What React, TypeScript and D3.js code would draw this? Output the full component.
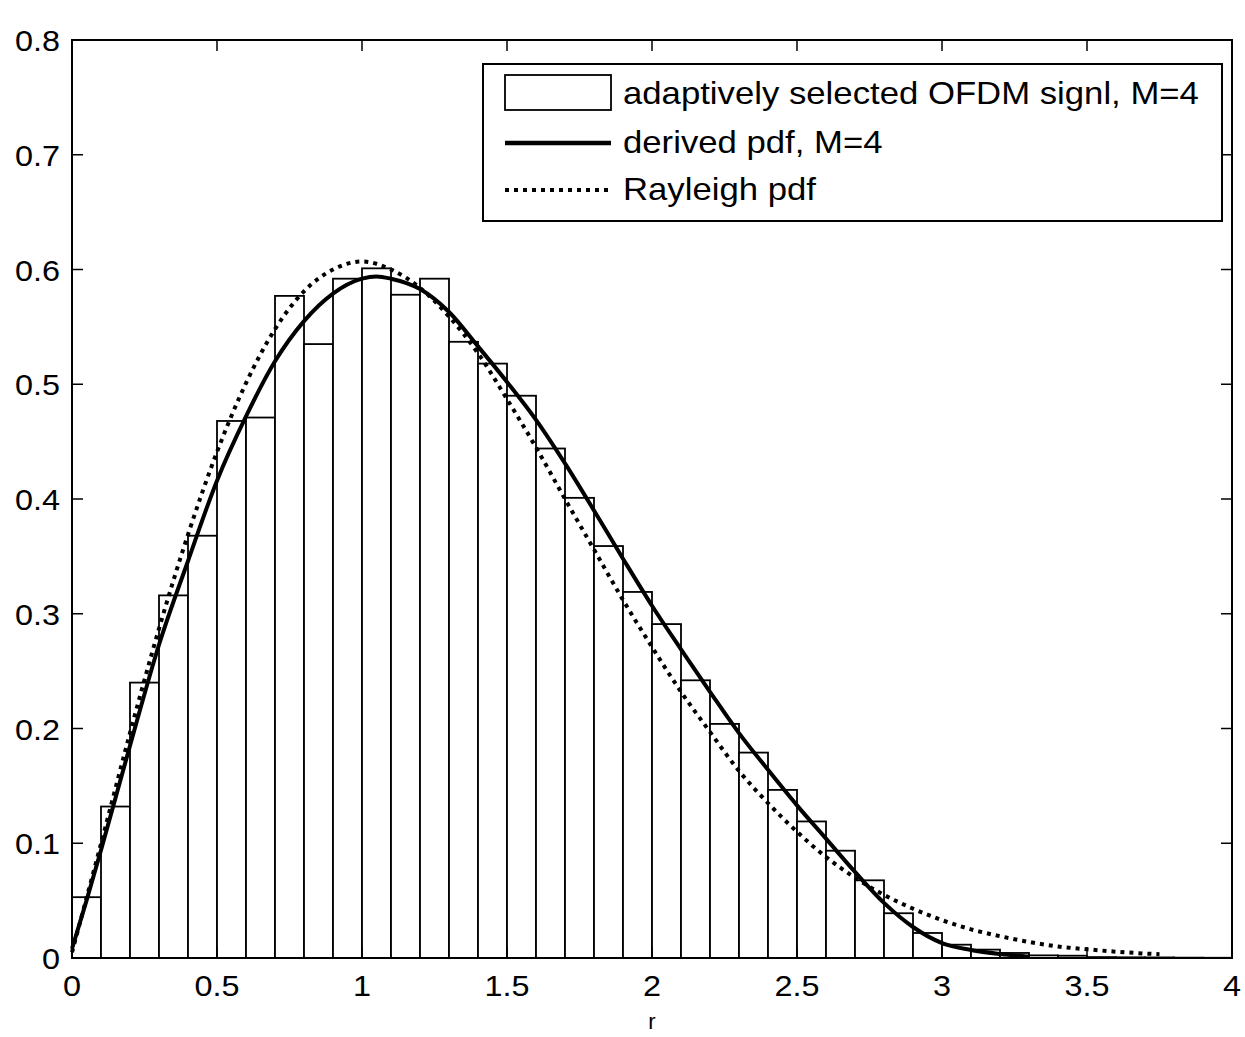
import React from "react";
import * as d3 from "d3";

const binStarts = [0, 0.1, 0.2, 0.3, 0.4, 0.5, 0.6, 0.7, 0.8, 0.9, 1.0, 1.1, 1.2, 1.3, 1.4, 1.5, 1.6, 1.7, 1.8, 1.9, 2.0, 2.1, 2.2, 2.3, 2.4, 2.5, 2.6, 2.7, 2.8, 2.9, 3.0, 3.1, 3.2, 3.3, 3.4, 3.5, 3.6, 3.7, 3.8, 3.9];
const binValues = [0.053, 0.132, 0.240, 0.316, 0.368, 0.468, 0.471, 0.577, 0.535, 0.592, 0.601, 0.578, 0.592, 0.537, 0.518, 0.490, 0.444, 0.401, 0.359, 0.319, 0.291, 0.242, 0.204, 0.179, 0.1465, 0.119, 0.0935, 0.0677, 0.039, 0.0218, 0.0116, 0.0073, 0.0044, 0.0023, 0.002, 0.0008, 0.0006, 0.0005, 0.0003, 0.0002];

const derivedR = [0, 0.05, 0.1, 0.2, 0.3, 0.4, 0.5, 0.6, 0.7, 0.8, 0.9, 1.0, 1.05, 1.1, 1.2, 1.3, 1.4, 1.5, 1.6, 1.7, 1.8, 1.9, 2.0, 2.1, 2.2, 2.3, 2.4, 2.5, 2.6, 2.7, 2.8, 2.9, 3.0, 3.1, 3.2, 3.3];
const derivedPdf = [0.008, 0.05, 0.094, 0.185, 0.273, 0.346, 0.416, 0.472, 0.520, 0.555, 0.579, 0.592, 0.594, 0.592, 0.583, 0.563, 0.533, 0.502, 0.469, 0.431, 0.390, 0.348, 0.307, 0.269, 0.232, 0.196, 0.164, 0.133, 0.104, 0.075, 0.048, 0.027, 0.013, 0.007, 0.0035, 0.0012];

const rayleighR = [0, 0.1, 0.2, 0.3, 0.4, 0.5, 0.6, 0.7, 0.8, 0.9, 1.0, 1.1, 1.2, 1.3, 1.4, 1.5, 1.6, 1.7, 1.8, 1.9, 2.0, 2.1, 2.2, 2.3, 2.4, 2.5, 2.6, 2.7, 2.8, 2.9, 3.0, 3.1, 3.2, 3.3, 3.4, 3.5, 3.6, 3.7, 3.75];
const rayleighPdf = [0.005, 0.0995, 0.196, 0.287, 0.369, 0.441, 0.501, 0.548, 0.581, 0.600, 0.607, 0.600, 0.584, 0.559, 0.527, 0.487, 0.445, 0.400, 0.356, 0.312, 0.271, 0.232, 0.197, 0.163, 0.135, 0.110, 0.088, 0.070, 0.055, 0.043, 0.033, 0.025, 0.019, 0.014, 0.010, 0.0076, 0.0055, 0.0039, 0.0033];

const xTicks = [0, 0.5, 1, 1.5, 2, 2.5, 3, 3.5, 4];
const xTickLabels = ["0", "0.5", "1", "1.5", "2", "2.5", "3", "3.5", "4"];
const yTicks = [0, 0.1, 0.2, 0.3, 0.4, 0.5, 0.6, 0.7, 0.8];
const yTickLabels = ["0", "0.1", "0.2", "0.3", "0.4", "0.5", "0.6", "0.7", "0.8"];

const legendLabels = ["adaptively selected OFDM signl, M=4", "derived pdf, M=4", "Rayleigh pdf"];
const xLabel = "r";

const FONT = "'Liberation Sans', Arial, Helvetica, sans-serif";

function SText(props: { x: number; y: number; sx: number; size: number; anchor?: string; children: React.ReactNode }) {
  return (
    <text transform={`translate(${props.x},${props.y}) scale(${props.sx},1)`} fontSize={props.size}
      textAnchor={props.anchor || "start"} fill="#000">{props.children}</text>
  );
}

export default function App() {
  const W = 1245, H = 1037;
  const L = 72, R = 1232, T = 40, B = 958;
  const x = d3.scaleLinear().domain([0, 4]).range([L, R]);
  const y = d3.scaleLinear().domain([0, 0.8]).range([B, T]);
  const binW = 0.1;

  const line = d3.line<[number, number]>()
    .x(d => x(d[0]))
    .y(d => y(d[1]))
    .curve(d3.curveMonotoneX);

  const derivedPath = line(derivedR.map((r, i) => [r, derivedPdf[i]] as [number, number])) || "";
  const rayleighPath = line(rayleighR.map((r, i) => [r, rayleighPdf[i]] as [number, number])) || "";

  const tickLen = 11;

  return (
    <svg width={W} height={H} style={{ position: "absolute", left: 0, top: 0, background: "#fff" }} fontFamily={FONT}>
      <rect x={0} y={0} width={W} height={H} fill="#fff" />
      <g>
        {binStarts.map((b, i) => (
          <rect key={i} x={x(b)} y={y(binValues[i])} width={x(b + binW) - x(b)} height={y(0) - y(binValues[i])}
            fill="#fff" stroke="#000" strokeWidth={1.8} />
        ))}
      </g>
      <path d={rayleighPath} fill="none" stroke="#000" strokeWidth={4} strokeDasharray="4 5" />
      <path d={derivedPath} fill="none" stroke="#000" strokeWidth={4} />
      <rect x={L} y={T} width={R - L} height={B - T} fill="none" stroke="#000" strokeWidth={2} />
      {xTicks.map((t, i) => (
        <g key={"x" + i}>
          <line x1={x(t)} x2={x(t)} y1={B} y2={B - tickLen} stroke="#000" strokeWidth={1.5} />
          <line x1={x(t)} x2={x(t)} y1={T} y2={T + tickLen} stroke="#000" strokeWidth={1.5} />
          <SText x={x(t)} y={B + 38} sx={1.08} size={30} anchor="middle">{xTickLabels[i]}</SText>
        </g>
      ))}
      {yTicks.map((t, i) => (
        <g key={"y" + i}>
          <line x1={L} x2={L + tickLen} y1={y(t)} y2={y(t)} stroke="#000" strokeWidth={1.5} />
          <line x1={R} x2={R - tickLen} y1={y(t)} y2={y(t)} stroke="#000" strokeWidth={1.5} />
          <SText x={L - 12} y={y(t) + 11} sx={1.08} size={30} anchor="end">{yTickLabels[i]}</SText>
        </g>
      ))}
      <text x={x(2)} y={1029} fontSize={22} textAnchor="middle" fill="#000">{xLabel}</text>
      <g>
        <rect x={483} y={64} width={739} height={157} fill="#fff" stroke="#000" strokeWidth={2} />
        <rect x={505} y={75} width={106} height={35} fill="#fff" stroke="#000" strokeWidth={1.8} />
        <line x1={505} x2={611} y1={143} y2={143} stroke="#000" strokeWidth={4.5} />
        <line x1={505} x2={611} y1={190} y2={190} stroke="#000" strokeWidth={4} strokeDasharray="4 5" />
        <SText x={623} y={104} sx={1.12} size={31}>{legendLabels[0]}</SText>
        <SText x={623} y={153} sx={1.12} size={31}>{legendLabels[1]}</SText>
        <SText x={623} y={200} sx={1.12} size={31}>{legendLabels[2]}</SText>
      </g>
    </svg>
  );
}
